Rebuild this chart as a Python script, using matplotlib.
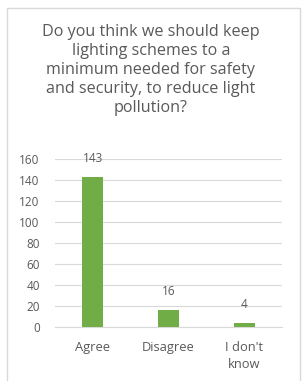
import matplotlib.pyplot as plt
from matplotlib.patches import Rectangle

# Datos del gráfico
categorias = ['Agree', 'Disagree', "I don't\nknow"]
valores = [143, 16, 4]
titulo = ('Do you think we should keep\nlighting schemes to a\n'
          'minimum needed for safety\nand security, to reduce light\npollution?')

gris_texto = '#595959'
verde = '#70AD47'

plt.rcParams['font.family'] = ['Open Sans', 'DejaVu Sans']

fig = plt.figure(figsize=(3.02, 3.81), dpi=100)

# Marco del gráfico
fig.patches.append(Rectangle((7 / 302, -0.05), 293 / 302, 1 - 8 / 381 + 0.05,
                             transform=fig.transFigure, fill=False,
                             edgecolor='#D9D9D9', linewidth=1))

fig.text(0.5, 1 - 70 / 381, titulo, ha='center', va='center', fontsize=11.6,
         color=gris_texto, linespacing=1.24)

ax = fig.add_axes([55 / 302, 1 - 326.7 / 381, 227 / 302, 167.7 / 381])
x = range(len(categorias))
barras = ax.bar(x, valores, width=0.28, color=verde, zorder=3)
for b, v in zip(barras, valores):
    ax.annotate(str(v), (b.get_x() + b.get_width() / 2, v), xytext=(0, 12),
                textcoords='offset pixels', ha='center', va='bottom',
                fontsize=8.5, color=gris_texto, zorder=4)

ax.set_xlim(-0.5, 2.5)
ax.set_ylim(0, 160)
ax.set_yticks(range(0, 161, 20))
ax.set_xticks(list(x))
ax.set_xticklabels(categorias, fontsize=9.3, color=gris_texto, linespacing=1.45)
ax.tick_params(axis='y', labelsize=8.5, labelcolor=gris_texto, length=0, pad=11)
ax.tick_params(axis='x', length=0, pad=10)
ax.grid(axis='y', color='#D9D9D9', linewidth=0.8, zorder=0)
for s in ['top', 'right', 'left']:
    ax.spines[s].set_visible(False)
ax.spines['bottom'].set_color('#D9D9D9')

fig.savefig('out.png', dpi=100)
